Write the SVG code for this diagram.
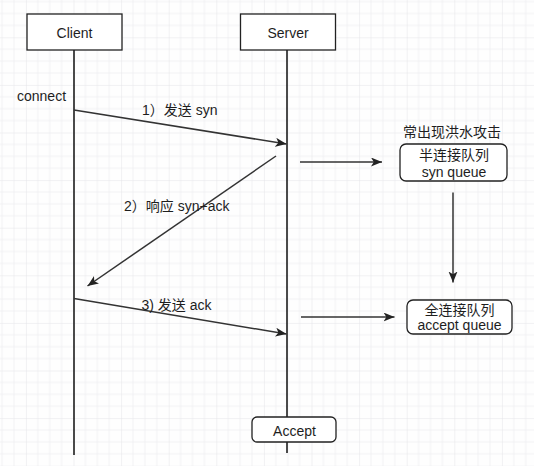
<svg xmlns="http://www.w3.org/2000/svg" width="534" height="466" viewBox="0 0 534 466">
  <defs>
    <pattern id="grid" patternUnits="userSpaceOnUse" x="25.9" y="-10.3" width="47.6" height="47.6">
      <path d="M11.9,0V47.6M23.8,0V47.6M35.7,0V47.6M0,11.9H47.6M0,23.8H47.6M0,35.7H47.6" stroke="#f1f1f3" stroke-width="1" fill="none"/>
      <path d="M0,0V47.6M0,0H47.6" stroke="#e4e4e8" stroke-width="1" fill="none"/>
    </pattern>
    <marker id="arr" markerUnits="userSpaceOnUse" markerWidth="12" markerHeight="10" refX="11" refY="4.5" orient="auto">
      <path d="M0,0 L11,4.5 L0,9 L2.8,4.5 Z" fill="#222"/>
    </marker>
    <style>
      .box { fill: #fff; stroke: #222; stroke-width: 1.3; }
      .life { stroke: #1e1e1e; stroke-width: 1.6; fill: none; }
      .msg { stroke: #333; stroke-width: 1.5; fill: none; marker-end: url(#arr); }
      text { font-family: "Liberation Sans", "Noto Sans CJK SC", sans-serif; font-size: 14px; fill: #1e1e1e; }
      .c { text-anchor: middle; }
    </style>
  </defs>

  <rect width="534" height="466" fill="#fefefe"/>
  <rect width="534" height="466" fill="url(#grid)"/>

  <g id="lifelines">
    <line class="life" x1="74" y1="50" x2="74" y2="455"/>
    <line class="life" x1="287" y1="50" x2="287" y2="417"/>
    <line class="life" x1="287" y1="442" x2="287" y2="453"/>
  </g>

  <g id="client">
    <rect class="box" x="27" y="14" width="95" height="36"/>
    <text class="c" x="74.5" y="37.5">Client</text>
  </g>
  <g id="server">
    <rect class="box" x="240.5" y="14" width="95" height="36"/>
    <text class="c" x="288" y="37.5">Server</text>
  </g>

  <g id="connect-label">
    <text x="17" y="101">connect</text>
  </g>

  <g id="connectors">
    <line class="msg" x1="74" y1="110" x2="286.5" y2="144"/>
    <line class="msg" x1="276" y1="156" x2="87.5" y2="286"/>
    <line class="msg" x1="74" y1="298.5" x2="286.5" y2="334"/>
    <line class="msg" x1="300" y1="162" x2="382" y2="162"/>
    <line class="msg" x1="301" y1="317" x2="394.5" y2="317"/>
    <line class="msg" x1="453" y1="192.5" x2="453" y2="282.5"/>
  </g>

  <g id="labels">
    <text x="142" y="115">1）发送 syn</text>
    <text x="124" y="211">2）响应 syn+ack</text>
    <text x="141.5" y="310">3) 发送 ack</text>
    <text class="c" x="452" y="136.5">常出现洪水攻击</text>
  </g>

  <g id="syn-queue">
    <rect class="box" x="400" y="144" width="107" height="37" rx="6"/>
    <text class="c" x="454" y="160">半连接队列</text>
    <text class="c" x="454" y="176.5">syn queue</text>
  </g>

  <g id="accept-queue">
    <rect class="box" x="407" y="300" width="105" height="34" rx="6"/>
    <text class="c" x="459.5" y="315">全连接队列</text>
    <text class="c" x="459.5" y="330">accept queue</text>
  </g>

  <g id="accept">
    <rect class="box" x="252" y="417" width="84" height="25" rx="5"/>
    <text class="c" x="294.5" y="435.5">Accept</text>
  </g>
</svg>
